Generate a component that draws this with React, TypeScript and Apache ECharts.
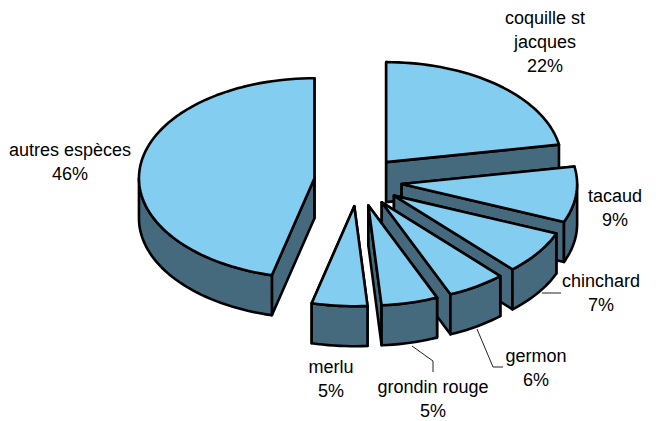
import React, { useEffect, useRef } from "react";
import * as echarts from "echarts";

const categories = ["coquille st\njacques", "tacaud", "chinchard", "germon", "grondin rouge", "merlu", "autres espèces"];
const percentLabels = ["22%", "9%", "7%", "6%", "5%", "5%", "46%"];
const shares = [22.2, 9.0, 7.0, 5.4, 5.2, 5.1, 46.1];

// label anchors (centre x, first-line y)
const labelAnchors = [
  [545, 18], [615, 196], [601, 281], [536, 356], [433, 387], [331, 367], [70, 150],
];
const leaderLines = [
  [[542, 293], [561, 293]],
  [[477, 329], [493, 367], [503, 367]],
  [[412, 346], [433, 361], [433, 372]],
];

const CX = 358, CY = 181.3, RX = 175.5, RY = 100, DEPTH = 40, EXPLODE = 0.25;
const TOP = "#83CDF0", SIDE = "#456A7E", EDGE = "#000000";
const FONT = "Liberation Sans, Arial, sans-serif";
const FONT_SIZE = 18, LINE_H = 24;

const total = shares.reduce((a, b) => a + b, 0);
const rad = (d: number) => (d * Math.PI) / 180;

function arcPoints(ax: number, ay: number, a: number, b: number, dy = 0) {
  const pts: number[][] = [];
  const n = Math.max(2, Math.ceil((b - a) / 2));
  for (let i = 0; i <= n; i++) {
    const t = rad(a + ((b - a) * i) / n);
    pts.push([ax + RX * Math.sin(t), ay - RY * Math.cos(t) + dy]);
  }
  return pts;
}

function renderItem(params: any, api: any) {
  const i = params.dataIndex;
  const value = api.value(0);
  let before = 0;
  for (let k = 0; k < i; k++) before += shares[k];
  const a = (before / total) * 360;
  const b = a + (value / total) * 360;
  const mid = rad((a + b) / 2);
  const ax = CX + EXPLODE * RX * Math.sin(mid);
  const ay = CY - EXPLODE * RY * Math.cos(mid);
  const style = { fill: SIDE, stroke: EDGE, lineWidth: 2.6, lineJoin: "round" };
  const children: any[] = [];
  const wall = (t: number) => {
    const p = [ax + RX * Math.sin(rad(t)), ay - RY * Math.cos(rad(t))];
    children.push({
      type: "polygon",
      shape: { points: [[ax, ay], p, [p[0], p[1] + DEPTH], [ax, ay + DEPTH]] },
      style,
    });
  };
  wall(a);
  wall(b);
  const fa = Math.max(a, 90), fb = Math.min(b, 270);
  if (fb > fa) {
    const front = arcPoints(ax, ay, fa, fb);
    const lower = arcPoints(ax, ay, fa, fb, DEPTH).reverse();
    children.push({ type: "polygon", shape: { points: [...front, ...lower] }, style });
  }
  children.push({
    type: "polygon",
    shape: { points: [[ax, ay], ...arcPoints(ax, ay, a, b)] },
    style: { ...style, fill: TOP },
  });
  return { type: "group", children };
}

export default function App() {
  const ref = useRef<HTMLDivElement>(null);
  useEffect(() => {
    document.body.style.margin = "0";
    const chart = echarts.init(ref.current!, undefined, { renderer: "svg" });
    const graphic: any[] = [];
    categories.forEach((c, i) => {
      const lines = [...c.split("\n"), percentLabels[i]];
      lines.forEach((t, j) => {
        graphic.push({
          type: "text",
          x: labelAnchors[i][0],
          y: labelAnchors[i][1] + j * LINE_H,
          style: {
            text: t,
            fill: "#000",
            font: `${FONT_SIZE}px ${FONT}`,
            textAlign: "center",
            textVerticalAlign: "middle",
          },
        });
      });
    });
    leaderLines.forEach((pts) => {
      graphic.push({
        type: "polyline",
        shape: { points: pts },
        style: { stroke: "#222", lineWidth: 1, fill: "none" },
      });
    });
    chart.setOption({
      animation: false,
      backgroundColor: "#fff",
      graphic,
      series: [
        {
          type: "custom",
          coordinateSystem: "none",
          renderItem,
          silent: true,
          data: shares.map((v) => [v]),
        },
      ],
    });
    return () => chart.dispose();
  }, []);
  return <div ref={ref} style={{ position: "fixed", left: 0, top: 0, width: 656, height: 421 }} />;
}
